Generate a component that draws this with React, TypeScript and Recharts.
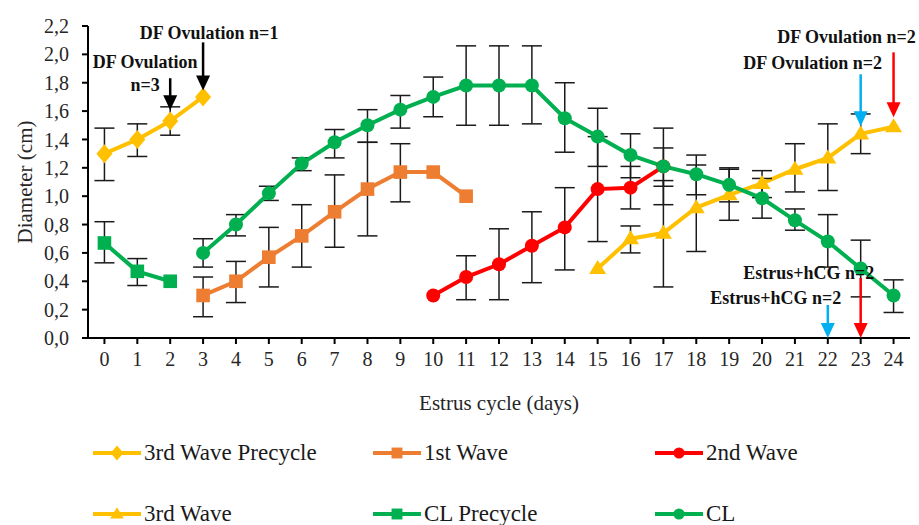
import React from 'react';
import { ComposedChart, Line, XAxis, YAxis, ErrorBar, ReferenceDot } from 'recharts';

// ---------------- data ----------------
const dayTicks = [0, 1, 2, 3, 4, 5, 6, 7, 8, 9, 10, 11, 12, 13, 14, 15, 16, 17, 18, 19, 20, 21, 22, 23, 24];
const diameterTicks = [0, 0.2, 0.4, 0.6, 0.8, 1.0, 1.2, 1.4, 1.6, 1.8, 2.0, 2.2];

const wave3PreDays = [0, 1, 2, 3];
const wave3PreValues = [1.30, 1.40, 1.53, 1.70];
const wave3PreLow = [1.11, 1.28, 1.43, null];
const wave3PreHigh = [1.48, 1.51, 1.63, null];

const wave1Days = [3, 4, 5, 6, 7, 8, 9, 10, 11];
const wave1Values = [0.30, 0.40, 0.57, 0.72, 0.89, 1.05, 1.17, 1.17, 1.00];
const wave1Low = [0.15, 0.25, 0.36, 0.50, 0.64, 0.72, 0.96, null, null];
const wave1High = [0.43, 0.54, 0.78, 0.94, 1.15, 1.38, 1.37, null, null];

const wave2Days = [10, 11, 12, 13, 14, 15, 16, 17];
const wave2Values = [0.30, 0.43, 0.52, 0.65, 0.78, 1.05, 1.06, 1.21];
const wave2Low = [null, 0.27, 0.27, 0.39, 0.48, 0.68, 0.91, 1.07];
const wave2High = [null, 0.58, 0.77, 0.89, 1.06, 1.42, 1.21, 1.34];

const wave3Days = [15, 16, 17, 18, 19, 20, 21, 22, 23, 24];
const wave3Values = [0.49, 0.70, 0.74, 0.92, 1.01, 1.09, 1.19, 1.27, 1.44, 1.49];
const wave3Low = [null, 0.60, 0.36, 0.61, 0.83, 0.99, 1.03, 1.04, 1.30, null];
const wave3High = [null, 0.79, 1.11, 1.22, 1.19, 1.18, 1.37, 1.51, 1.58, null];

const clPreDays = [0, 1, 2];
const clPreValues = [0.67, 0.47, 0.40];
const clPreLow = [0.53, 0.37, null];
const clPreHigh = [0.82, 0.56, null];

const clDays = [3, 4, 5, 6, 7, 8, 9, 10, 11, 12, 13, 14, 15, 16, 17, 18, 19, 20, 21, 22, 23, 24];
const clValues = [0.60, 0.80, 1.02, 1.23, 1.38, 1.50, 1.61, 1.70, 1.78, 1.78, 1.78, 1.55, 1.42, 1.29, 1.21, 1.155, 1.08, 0.985, 0.83, 0.68, 0.49, 0.30];
const clLow = [0.50, 0.72, 0.97, 1.18, 1.27, 1.38, 1.48, 1.56, 1.50, 1.50, 1.51, 1.31, 1.21, 1.13, 0.94, 1.01, 0.96, 0.845, 0.76, 0.50, 0.29, 0.18];
const clHigh = [0.70, 0.87, 1.07, 1.27, 1.47, 1.61, 1.71, 1.84, 2.06, 2.06, 2.06, 1.80, 1.62, 1.44, 1.48, 1.29, 1.20, 1.125, 0.91, 0.87, 0.69, 0.41];

const seriesNames = ['3rd Wave Precycle', '1st Wave', '2nd Wave', '3rd Wave', 'CL Precycle', 'CL'];

const annotationDays = [2, 3, 24, 23, 23, 22];
const annotationValues = [1.606, 1.746, 1.556, 1.493, 0, 0];
const annotationTexts = [
  ['DF Ovulation', 'n=3'],
  ['DF Ovulation n=1'],
  ['DF Ovulation n=2'],
  ['DF Ovulation n=2'],
  ['Estrus+hCG n=2'],
  ['Estrus+hCG n=2'],
];

// ---------------- styling ----------------
const SERIF = '"Liberation Serif", "Times New Roman", Times, serif';
const YELLOW = '#FFC000';
const ORANGE = '#ED7D31';
const RED = '#FF0000';
const GREEN = '#00B050';
const BLUE = '#00B0F0';

const annotationStyles = [
  { color: '#000', len: 32, dx: [-25, -25], dy: [-42, -19] },
  { color: '#000', len: 48, dx: [6], dy: [-51] },
  { color: RED, len: 65, dx: [-47], dy: [-74] },
  { color: BLUE, len: 52, dx: [-48], dy: [-57] },
  { color: RED, len: 60, dx: [-52], dy: [-59] },
  { color: BLUE, len: 33, dx: [-52], dy: [-34] },
];

function build(days: number[], values: number[], low: (number | null)[], high: (number | null)[]) {
  return days.map((d, i) => ({
    x: d,
    y: values[i],
    err: low[i] == null || high[i] == null ? null : [values[i] - (low[i] as number), (high[i] as number) - values[i]],
  }));
}

type ShapeKind = 'diamond' | 'square' | 'circle' | 'triangle';

function Marker({ kind, cx, cy, fill, k = 1 }: { kind: ShapeKind; cx: number; cy: number; fill: string; k?: number }) {
  if (kind === 'diamond') {
    const h = 9.5 * k, w = 8 * k;
    return <polygon points={`${cx},${cy - h} ${cx + w},${cy} ${cx},${cy + h} ${cx - w},${cy}`} fill={fill} />;
  }
  if (kind === 'square') {
    const s = 6.8 * k;
    return <rect x={cx - s} y={cy - s} width={2 * s} height={2 * s} fill={fill} />;
  }
  if (kind === 'circle') {
    return <circle cx={cx} cy={cy} r={7 * k} fill={fill} />;
  }
  const w = 8.5 * k, h = 14 * k;
  return <polygon points={`${cx},${cy - h * 0.6} ${cx + w},${cy + h * 0.4} ${cx - w},${cy + h * 0.4}`} fill={fill} />;
}

const dotRenderer = (kind: ShapeKind, fill: string) => (props: any) => {
  const { cx, cy, index } = props;
  if (cx == null || cy == null) return <g key={`n-${index}`} />;
  return <Marker key={`${kind}-${index}`} kind={kind} cx={cx} cy={cy} fill={fill} />;
};

const series = [
  { name: seriesNames[0], data: build(wave3PreDays, wave3PreValues, wave3PreLow, wave3PreHigh), color: YELLOW, kind: 'diamond' as ShapeKind },
  { name: seriesNames[1], data: build(wave1Days, wave1Values, wave1Low, wave1High), color: ORANGE, kind: 'square' as ShapeKind },
  { name: seriesNames[2], data: build(wave2Days, wave2Values, wave2Low, wave2High), color: RED, kind: 'circle' as ShapeKind },
  { name: seriesNames[3], data: build(wave3Days, wave3Values, wave3Low, wave3High), color: YELLOW, kind: 'triangle' as ShapeKind },
  { name: seriesNames[4], data: build(clPreDays, clPreValues, clPreLow, clPreHigh), color: GREEN, kind: 'square' as ShapeKind },
  { name: seriesNames[5], data: build(clDays, clValues, clLow, clHigh), color: GREEN, kind: 'circle' as ShapeKind },
];

function Arrow(props: any) {
  const { cx, cy, idx } = props;
  const st = annotationStyles[idx];
  const headH = 15;
  const headW = 7;
  return (
    <g>
      <line x1={cx} y1={cy - st.len} x2={cx} y2={cy - headH + 1} stroke={st.color} strokeWidth={2.5} />
      <polygon points={`${cx - headW},${cy - headH} ${cx + headW},${cy - headH} ${cx},${cy}`} fill={st.color} />
      {annotationTexts[idx].map((t: string, j: number) => (
        <text
          key={j}
          x={cx + st.dx[j]}
          y={cy + st.dy[j]}
          textAnchor="middle"
          fontFamily={SERIF}
          fontWeight="bold"
          fontSize={18}
          fill="#111"
        >
          {t}
        </text>
      ))}
    </g>
  );
}

const legendCols = [93, 373, 655];
const legendRows = [453, 514];

function Legend() {
  return (
    <>
      {series.map((s, i) => {
        const col = i % 3;
        const row = Math.floor(i / 3);
        const left = legendCols[col];
        const top = legendRows[row];
        return (
          <div
            key={s.name}
            style={{ position: 'absolute', left, top: top - 12, height: 24, display: 'flex', alignItems: 'center', whiteSpace: 'nowrap' }}
          >
            <svg width={50} height={24} style={{ display: 'block' }}>
              <line x1={0} y1={12} x2={48} y2={12} stroke={s.color} strokeWidth={4} />
              <Marker kind={s.kind} cx={24} cy={12} fill={s.color} k={0.8} />
            </svg>
            <span style={{ fontFamily: SERIF, fontSize: 23, color: '#1a1a1a', marginLeft: 1, lineHeight: '24px' }}>{s.name}</span>
          </div>
        );
      })}
    </>
  );
}

const fmt = (v: number) => v.toFixed(1).replace('.', ',');

export default function App() {
  return (
    <div style={{ position: 'absolute', left: 0, top: 0, width: 919, height: 525, background: '#fff' }}>
      <ComposedChart width={919} height={525} margin={{ top: 26, right: 9, left: 0, bottom: 107 }}>
        <XAxis
          type="number"
          dataKey="x"
          domain={[-0.5, 24.5]}
          ticks={dayTicks}
          interval={0}
          allowDataOverflow
          axisLine={{ stroke: '#000', strokeWidth: 2 }}
          tickLine={{ stroke: '#000', strokeWidth: 2 }}
          tickSize={6}
          tickMargin={8}
          height={80}
          tick={{ fill: '#262626', fontSize: 20, fontFamily: SERIF }}
          label={{
            content: (p: any) => {
              const vb = p.viewBox || { x: 88, y: 338, width: 822 };
              return (
                <text x={vb.x + vb.width / 2} y={vb.y + 72} textAnchor="middle" fontFamily={SERIF} fontSize={21} fill="#262626">
                  Estrus cycle (days)
                </text>
              );
            },
          }}
        />
        <YAxis
          type="number"
          dataKey="y"
          domain={[0, 2.2]}
          ticks={diameterTicks}
          interval={0}
          allowDataOverflow
          width={88}
          axisLine={{ stroke: '#000', strokeWidth: 2 }}
          tickLine={{ stroke: '#000', strokeWidth: 2 }}
          tickSize={6}
          tickMargin={13}
          tickFormatter={fmt}
          tick={{ fill: '#262626', fontSize: 20, fontFamily: SERIF }}
          label={{
            content: (p: any) => {
              const vb = p.viewBox || { x: 0, y: 26, width: 88, height: 312 };
              const cx = 25;
              const cy = vb.y + vb.height / 2;
              return (
                <text
                  x={cx}
                  y={cy}
                  transform={`rotate(-90, ${cx}, ${cy})`}
                  textAnchor="middle"
                  dominantBaseline="central"
                  fontFamily={SERIF}
                  fontSize={21}
                  fill="#262626"
                >
                  Diameter (cm)
                </text>
              );
            },
          }}
        />
        {series.map((s) => (
          <Line
            key={s.name}
            name={s.name}
            data={s.data}
            dataKey="y"
            type="linear"
            stroke={s.color}
            strokeWidth={4}
            dot={dotRenderer(s.kind, s.color)}
            activeDot={false}
            isAnimationActive={false}
            legendType="none"
          >
            <ErrorBar dataKey="err" direction="y" width={10} stroke="#1a1a1a" strokeWidth={1.5} isAnimationActive={false} />
          </Line>
        ))}
        {annotationDays.map((d, i) => (
          <ReferenceDot
            key={`ann-${i}`}
            x={d}
            y={annotationValues[i]}
            r={0}
            ifOverflow="visible"
            shape={(p: any) => <Arrow cx={p.cx} cy={p.cy} idx={i} />}
          />
        ))}
      </ComposedChart>
      <Legend />
    </div>
  );
}
